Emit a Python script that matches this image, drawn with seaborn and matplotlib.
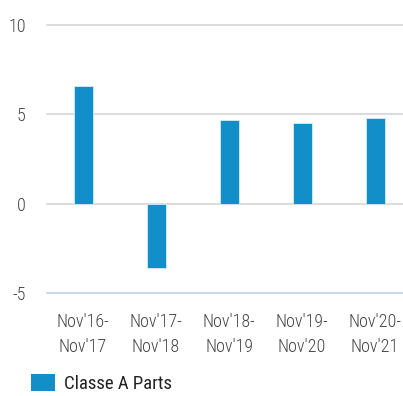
import matplotlib
matplotlib.use("Agg")
import matplotlib.pyplot as plt
import seaborn as sns
import pandas as pd
from matplotlib.patches import Patch

periods = ["Nov'16-\nNov'17", "Nov'17-\nNov'18", "Nov'18-\nNov'19",
           "Nov'19-\nNov'20", "Nov'20-\nNov'21"]
returns = [6.6, -3.6, 4.7, 4.5, 4.8]
series_name = "Classe A Parts"
y_ticks = [-5, 0, 5, 10]

sns.set_theme(style="white")
plt.rcParams["font.family"] = ["Roboto Condensed", "DejaVu Sans"]
plt.rcParams["font.stretch"] = "condensed"

df = pd.DataFrame({"period": periods, "value": returns})

fig = plt.figure(figsize=(4.03, 3.96), dpi=100)
ax = fig.add_axes([0.1154, 0.2593, 0.906, 0.678])

bar_color = "#128fc9"
sns.barplot(data=df, x="period", y="value", color=bar_color, width=0.26,
            saturation=1, edgecolor="#d6ecf7", linewidth=0.6, ax=ax, zorder=3)

ax.set_xlim(-0.5, 4.5)
ax.set_ylim(-5, 10)
ax.set_yticks(y_ticks)
ax.set_yticklabels([str(t) for t in y_ticks])
for t in y_ticks:
    ax.axhline(t, color="#c8d8ea" if t == -5 else "#dcdcdc", lw=1.4, zorder=1,
               clip_on=False)

ax.set_xlabel("")
ax.set_ylabel("")
for s in ax.spines.values():
    s.set_visible(False)
ax.tick_params(axis="both", length=0, colors="#444444", labelsize=13)
ax.tick_params(axis="y", pad=15)
ax.tick_params(axis="x", pad=14)
for lbl in ax.get_xticklabels() + ax.get_yticklabels():
    lbl.set_fontweight("light")
for lbl in ax.get_xticklabels():
    lbl.set_linespacing(1.5)

handles = [Patch(facecolor=bar_color, edgecolor="none", label=series_name)]
fig.legend(handles=handles, loc="lower left", bbox_to_anchor=(0.035, -0.035),
           frameon=False, fontsize=13.5, handlelength=1.3, handleheight=1.0,
           handletextpad=0.45, labelcolor="#222222")

fig.savefig("out.png", dpi=100)
